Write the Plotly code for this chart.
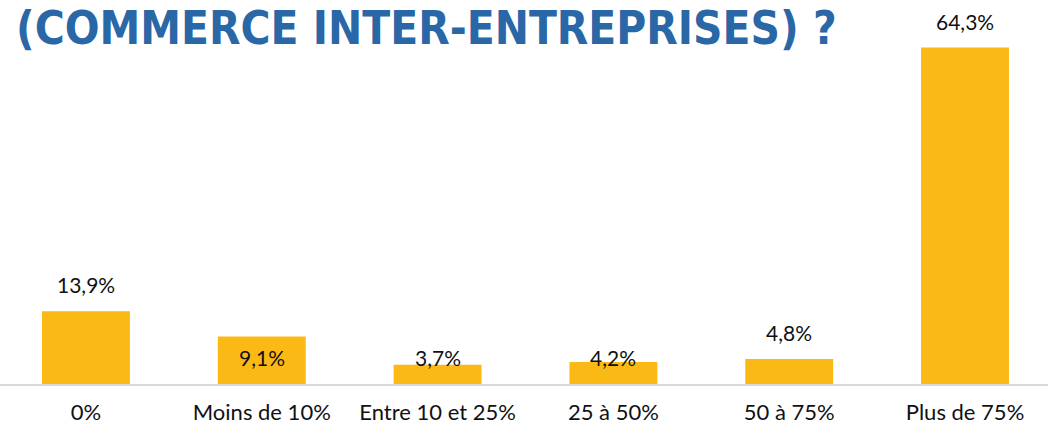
import plotly.graph_objects as go

# Données
categories = ["0%", "Moins de 10%", "Entre 10 et 25%", "25 à 50%", "50 à 75%", "Plus de 75%"]
valeurs = [13.9, 9.1, 3.7, 4.2, 4.8, 64.3]
etiquettes = ["13,9%", "9,1%", "3,7%", "4,2%", "4,8%", "64,3%"]
# placement des étiquettes : au-dessus de la barre ou sur la ligne basse
placement = ["dessus", "bas", "bas", "bas", "dessus", "dessus"]

titre = "(COMMERCE INTER-ENTREPRISES) ?"

JAUNE = "#FBB916"
BLEU = "#2A67A6"
POLICE = "Lato, 'Open Sans', sans-serif"

fig = go.Figure()
fig.add_trace(go.Bar(
    x=categories,
    y=valeurs,
    marker=dict(color=JAUNE, line=dict(width=0)),
    width=0.5,
    hoverinfo="skip",
))

# Étiquettes de valeurs
for cat, v, txt, pl in zip(categories, valeurs, etiquettes, placement):
    if pl == "dessus":
        fig.add_annotation(x=cat, y=v, text=txt, showarrow=False,
                           yanchor="bottom", yshift=12,
                           font=dict(family=POLICE, size=21, color="#111111"))
    else:
        fig.add_annotation(x=cat, y=5, text=txt, showarrow=False,
                           yanchor="middle",
                           font=dict(family=POLICE, size=21, color="#111111"))

# Titre (coupé en haut comme dans l'original)
fig.add_annotation(
    xref="paper", yref="paper", x=0.013, y=0.926,
    xanchor="left", yanchor="middle",
    text="<b>" + titre + "</b>", showarrow=False,
    font=dict(family="'DejaVu Sans Condensed', 'DejaVu Sans', sans-serif",
              size=45.5, color=BLEU),
)

fig.update_layout(
    width=1048, height=426,
    margin=dict(l=0, r=0, t=0, b=42),
    plot_bgcolor="white", paper_bgcolor="white",
    showlegend=False,
    xaxis=dict(
        range=[-0.489, 5.472],
        showline=True, linecolor="#D9D9D9", linewidth=2,
        showgrid=False, ticks="",
        tickfont=dict(family=POLICE, size=22, color="#111111"),
        ticklabelstandoff=8,
    ),
    yaxis=dict(range=[0, 73.4], visible=False),
)

# la page n'a pas de marge autour du graphique
fig.write_html("out.html", config={"displayModeBar": False},
               post_script="document.body.style.margin='0';")
